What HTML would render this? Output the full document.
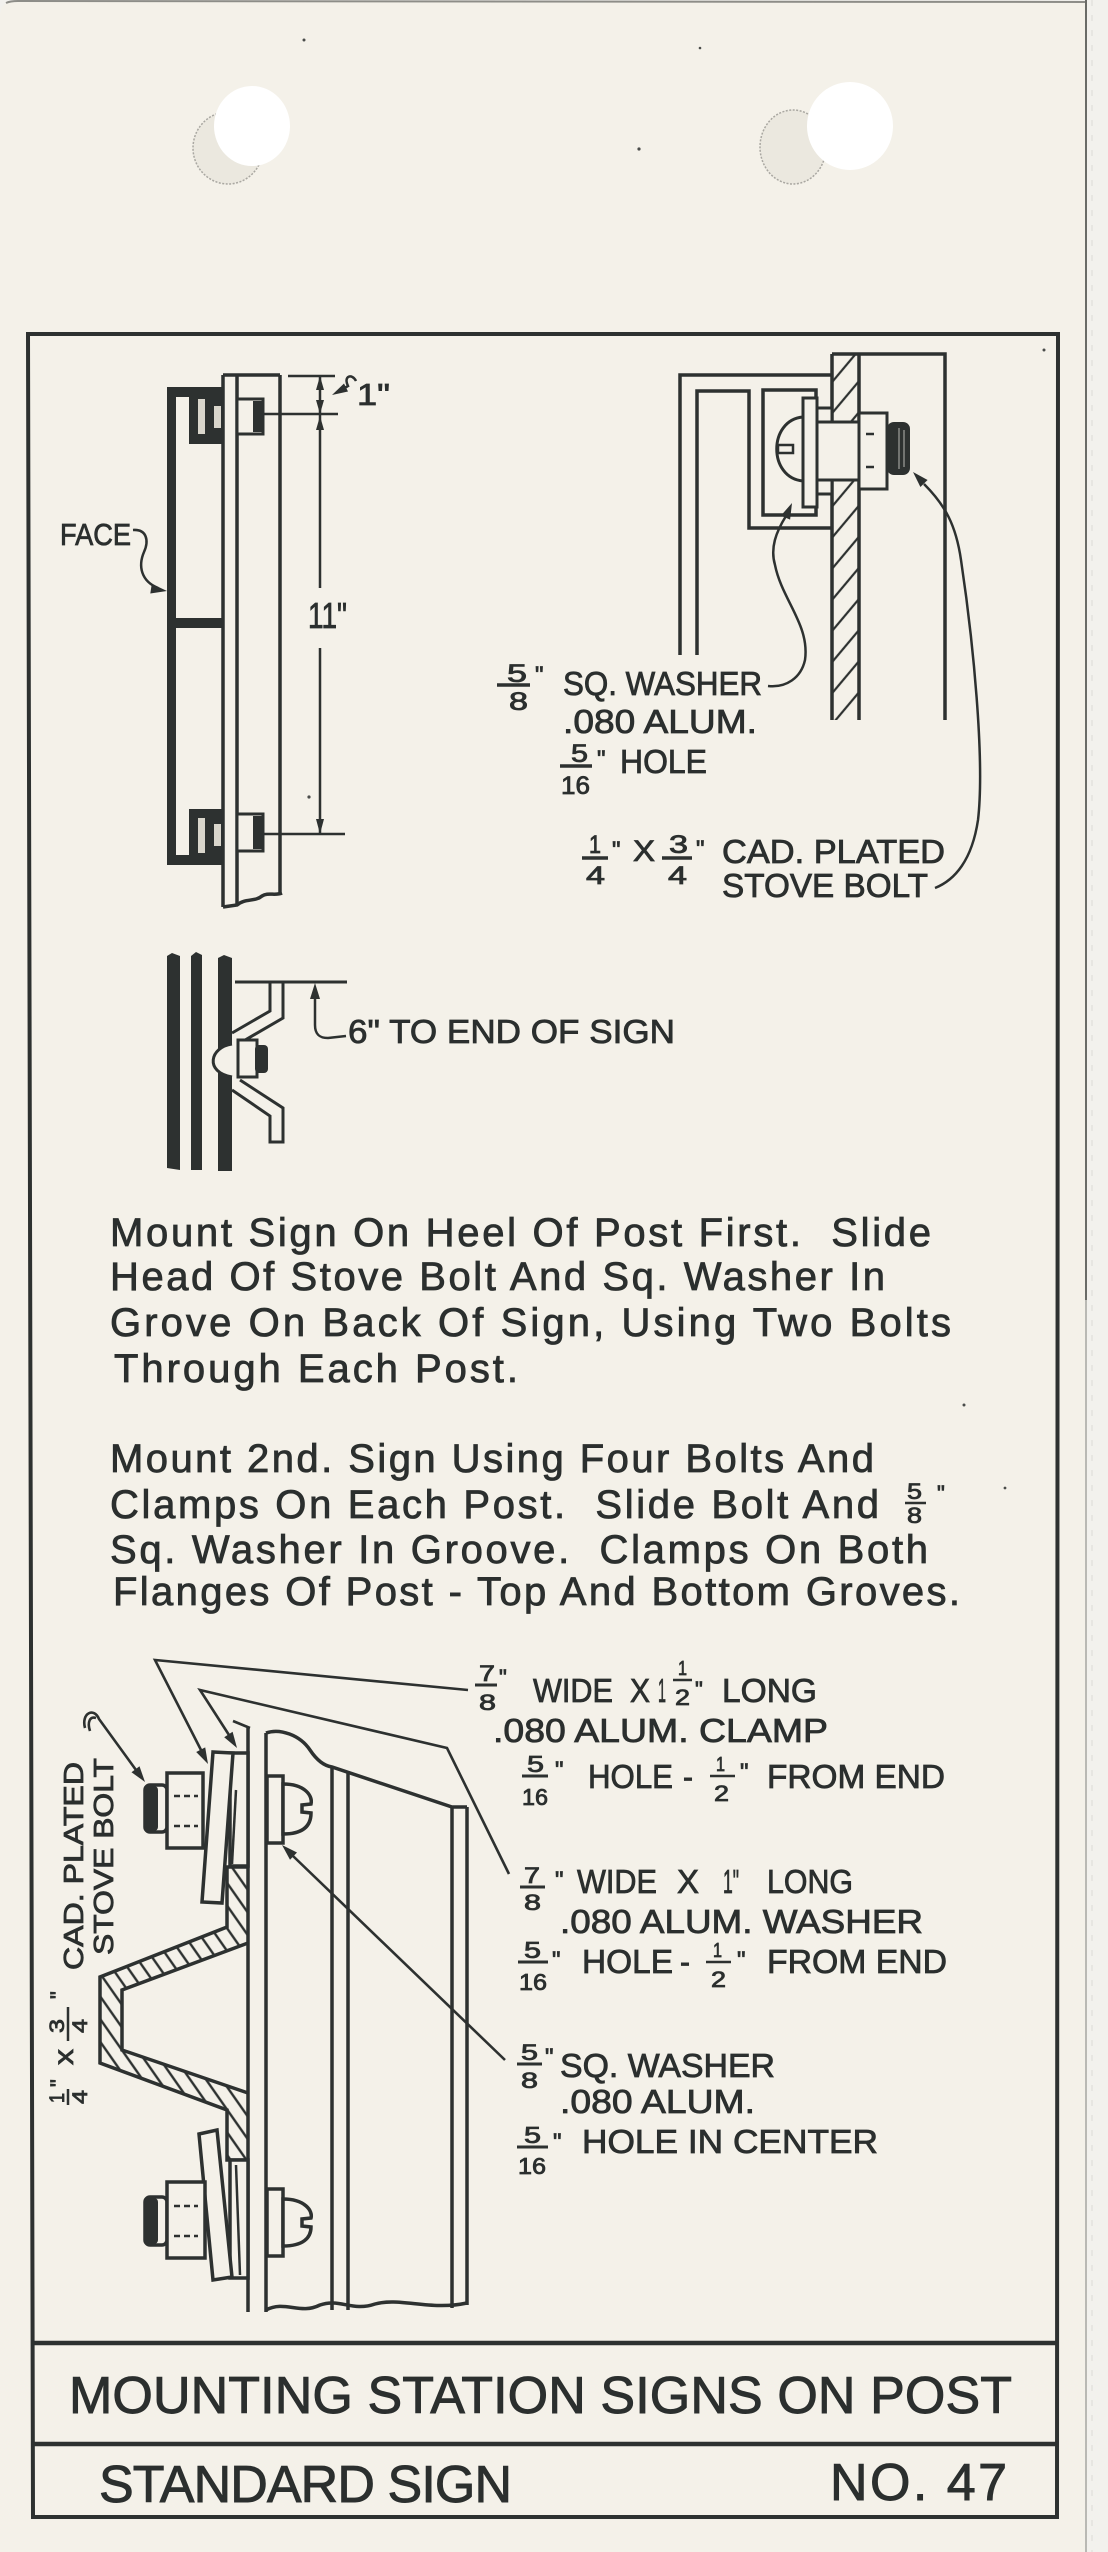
<!DOCTYPE html>
<html><head><meta charset="utf-8"><style>
html,body{margin:0;padding:0;background:#f1f0ec;}
svg{display:block;}
text{font-family:"Liberation Sans",sans-serif;fill:#2b2f2e;stroke:#2b2f2e;stroke-width:0.8;white-space:pre;}
</style></head><body>
<svg width="1108" height="2552" viewBox="0 0 1108 2552" xmlns="http://www.w3.org/2000/svg">
<defs>
<pattern id="hw" width="20" height="20" patternUnits="userSpaceOnUse" patternTransform="rotate(40)"><line x1="3" y1="0" x2="3" y2="20" stroke="#2d3130" stroke-width="2.2"/></pattern>
<pattern id="hc" width="13" height="13" patternUnits="userSpaceOnUse" patternTransform="rotate(-35)"><line x1="3" y1="0" x2="3" y2="13" stroke="#2d3130" stroke-width="2.4"/></pattern>
</defs>
<!-- page -->
<rect x="0" y="0" width="1108" height="2552" fill="#f2f1ed"/>
<path d="M0,16 Q0,1 16,1 L1087,1 L1087,2552 L0,2552 Z" fill="#f4f1e9"/>
<path d="M6,3 Q10,1 18,1 L1086,2" stroke="#8d8d88" stroke-width="2" fill="none"/>
<line x1="1086" y1="0" x2="1086" y2="1300" stroke="#6a6b67" stroke-width="2"/>
<line x1="1086" y1="1300" x2="1086" y2="2552" stroke="#b9b9b4" stroke-width="2"/>
<line x1="1092" y1="0" x2="1092" y2="2552" stroke="#dcdcd7" stroke-width="1" stroke-dasharray="6 9"/>

<!-- holes -->
<ellipse cx="228" cy="148" rx="35" ry="36" fill="#ebe8df" stroke="#a9a7a1" stroke-width="1.5" stroke-dasharray="2 1.5"/>
<ellipse cx="252" cy="126" rx="38" ry="40" fill="#ffffff"/>
<ellipse cx="793" cy="147" rx="33" ry="37" fill="#ebe8df" stroke="#a9a7a1" stroke-width="1.5" stroke-dasharray="2 1.5"/>
<ellipse cx="850" cy="126" rx="43" ry="44" fill="#ffffff"/>
<!-- specks -->
<g fill="#4a4c4a"><circle cx="304" cy="40" r="1.5"/><circle cx="639" cy="149" r="1.6"/><circle cx="700" cy="48" r="1.3"/><circle cx="1044" cy="350" r="1.5"/><circle cx="309" cy="797" r="1.6"/><circle cx="964" cy="1405" r="1.5"/><circle cx="1005" cy="1488" r="1.4"/></g>

<!-- frame -->
<g stroke="#2d3130" fill="none" stroke-width="4">
<path d="M28,334 L1058,334 L1057,2517 L33,2517 Z"/>
<line x1="31" y1="2343" x2="1057" y2="2343" stroke-width="4.5"/>
<line x1="32" y1="2444" x2="1057" y2="2444" stroke-width="4.5"/>
</g>

<!-- ============ TOP-LEFT DRAWING ============ -->
<g fill="#2d3130">
<rect x="167" y="387" width="9" height="478"/>
<rect x="167" y="387" width="56" height="10"/>
<rect x="167" y="855" width="56" height="10"/>
<rect x="167" y="618" width="56" height="10"/>
<rect x="189" y="387" width="34" height="57"/>
<rect x="189" y="809" width="34" height="56"/>
</g>
<g fill="#d9d6cc">
<rect x="198" y="399" width="7" height="35"/><rect x="214" y="406" width="7" height="22"/>
<rect x="198" y="818" width="7" height="35"/><rect x="214" y="824" width="7" height="22"/>
</g>
<g stroke="#2d3130" stroke-width="3.5" fill="none">
<line x1="223" y1="375" x2="223" y2="907"/>
<line x1="237" y1="375" x2="237" y2="904"/>
<line x1="280" y1="375" x2="280" y2="895"/>
<line x1="223" y1="375" x2="280" y2="375"/>
<path d="M223,907 L237,905 C245,898 255,902 262,896 C268,892 275,896 282,893"/>
</g>
<g stroke="#2d3130" stroke-width="3" fill="#f4f1e9">
<rect x="237" y="399" width="26" height="35"/>
<rect x="237" y="814" width="26" height="37"/>
</g>
<rect x="253" y="401" width="10" height="31" fill="#2d3130"/>
<rect x="253" y="816" width="10" height="33" fill="#2d3130"/>
<g stroke="#2d3130" stroke-width="2.5" fill="none">
<line x1="288" y1="376" x2="335" y2="376"/>
<line x1="263" y1="414" x2="338" y2="414"/>
<line x1="263" y1="834" x2="345" y2="834"/>
<line x1="320" y1="376" x2="320" y2="588"/>
<line x1="320" y1="648" x2="320" y2="834"/>
<path d="M356,381 C352,373 343,376 348,386 L338,392"/>
<path d="M133,530 C147,529 149,541 144,552 C138,566 141,581 158,588"/>
</g>
<g fill="#2d3130">
<polygon points="320,376 316,390 324,390"/>
<polygon points="320,414 316,400 324,400"/>
<polygon points="320,416 316,430 324,430"/>
<polygon points="320,834 316,819 324,819"/>
<polygon points="332,395 348,391.5 344,383.5"/>
<polygon points="167,591 150.3,593.5 151.8,583.7"/>
</g>
<text x="308" y="628" font-size="36" textLength="39" lengthAdjust="spacingAndGlyphs">11"</text>
<text x="357" y="405" font-size="31" textLength="33" lengthAdjust="spacingAndGlyphs">1"</text>
<text x="60" y="545" font-size="31" textLength="71" lengthAdjust="spacingAndGlyphs">FACE</text>

<!-- ============ TOP-RIGHT DRAWING ============ -->
<rect x="832" y="354" width="27" height="366" fill="url(#hw)"/>
<g stroke="#2d3130" stroke-width="3.5" fill="none">
<path d="M680,655 L680,375 L832,375"/>
<path d="M697,655 L697,391 L749,391 L749,528 L832,528"/>
<rect x="763" y="390" width="53" height="125"/>
<line x1="832" y1="354" x2="832" y2="720"/>
<line x1="859" y1="354" x2="859" y2="720"/>
<path d="M832,354 L945,354 L945,720"/>
</g>
<g stroke="#2d3130" stroke-width="3" fill="#f4f1e9">
<rect x="817" y="408" width="15" height="86"/>
<rect x="817" y="422" width="42" height="58"/>
<rect x="803" y="398" width="14" height="109"/>
<path d="M803,417 C768,420 768,478 803,481 Z"/>
<rect x="778" y="445" width="15" height="8" stroke-width="2.5"/>
<rect x="859" y="413" width="28" height="76"/>
</g>
<rect x="887" y="422" width="23" height="53" rx="7" fill="#2d3130"/>
<g stroke="#8a8b87" stroke-width="1.5"><line x1="899" y1="428" x2="899" y2="469"/><line x1="904" y1="430" x2="904" y2="467"/></g>
<g stroke="#2d3130" stroke-width="2.5" fill="none">
<line x1="866" y1="434" x2="874" y2="434"/><line x1="866" y1="467" x2="874" y2="467"/>
<path d="M786,516 C776,532 770,548 775,565 C782,600 810,625 805,660 C801,678 786,688 768,686"/>
<path d="M924,484 C945,505 956,525 961,560 C973,640 985,760 978,820 C972,860 955,880 935,888"/>
</g>
<g fill="#2d3130">
<polygon points="792,503 790.1,519.6 780.9,515.6"/>
<polygon points="913,472 927.6,480 920.4,487"/>
</g>
<!-- labels -->
<text x="507" y="682" font-size="25" textLength="20" lengthAdjust="spacingAndGlyphs">5</text>
<line x1="497" y1="685" x2="530" y2="685" stroke="#2d3130" stroke-width="3.5"/>
<text x="509" y="710" font-size="25" textLength="19" lengthAdjust="spacingAndGlyphs">8</text>
<text x="535" y="683" font-size="24">"</text>
<text x="563" y="695" font-size="33" textLength="199" lengthAdjust="spacingAndGlyphs">SQ. WASHER</text>
<text x="563" y="733" font-size="33" textLength="194" lengthAdjust="spacingAndGlyphs">.080 ALUM.</text>
<text x="571" y="762" font-size="25" textLength="17" lengthAdjust="spacingAndGlyphs">5</text>
<line x1="560" y1="766" x2="592" y2="766" stroke="#2d3130" stroke-width="3.5"/>
<text x="561" y="794" font-size="25" textLength="29" lengthAdjust="spacingAndGlyphs">16</text>
<text x="597" y="767" font-size="24">"</text>
<text x="620" y="773" font-size="33" textLength="87" lengthAdjust="spacingAndGlyphs">HOLE</text>
<text x="589" y="853" font-size="25" textLength="12" lengthAdjust="spacingAndGlyphs">1</text>
<line x1="582" y1="858" x2="608" y2="858" stroke="#2d3130" stroke-width="3.5"/>
<text x="586" y="884" font-size="25" textLength="19" lengthAdjust="spacingAndGlyphs">4</text>
<text x="612" y="858" font-size="24">"</text>
<text x="633" y="861" font-size="30" textLength="22" lengthAdjust="spacingAndGlyphs">X</text>
<text x="669" y="853" font-size="25" textLength="19" lengthAdjust="spacingAndGlyphs">3</text>
<line x1="662" y1="858" x2="692" y2="858" stroke="#2d3130" stroke-width="3.5"/>
<text x="668" y="884" font-size="25" textLength="19" lengthAdjust="spacingAndGlyphs">4</text>
<text x="696" y="857" font-size="24">"</text>
<text x="722" y="863" font-size="33" textLength="223" lengthAdjust="spacingAndGlyphs">CAD. PLATED</text>
<text x="722" y="897" font-size="33" textLength="206" lengthAdjust="spacingAndGlyphs">STOVE BOLT</text>

<!-- ============ MIDDLE DRAWING ============ -->
<g fill="#2d3130">
<path d="M167,956 L172,953 L180,956 L180,1170 L167,1168 Z"/>
<path d="M191,956 L196,952 L202,955 L202,1170 L191,1170 Z"/>
<path d="M218,958 L224,955 L232,958 L232,1171 L218,1171 Z"/>
</g>
<g stroke="#2d3130" stroke-width="3" fill="none">
<line x1="235" y1="982" x2="347" y2="982"/>
<path d="M270,983 L270,1011 L232,1033"/>
<path d="M283,983 L283,1018 L240,1043"/>
<path d="M232,1090 L270,1116 L270,1142 L283,1142 L283,1108 L240,1080"/>
</g>
<path d="M232,1044 C210,1047 204,1072 232,1077" fill="#f4f1e9" stroke="#2d3130" stroke-width="3"/>
<rect x="238" y="1040" width="19" height="37" fill="#f4f1e9" stroke="#2d3130" stroke-width="3"/>
<rect x="255" y="1045" width="13" height="28" rx="4" fill="#2d3130"/>
<path d="M315,997 L315,1025 C315,1035 320,1038 328,1038 L346,1036" stroke="#2d3130" stroke-width="2.5" fill="none"/>
<polygon points="315,983 310,999 320,999" fill="#2d3130"/>
<text x="348" y="1043" font-size="33" textLength="327" lengthAdjust="spacingAndGlyphs">6" TO END OF SIGN</text>

<!-- ============ PARAGRAPHS ============ -->
<g font-size="40" style="stroke-width:1.1">
<text x="110" y="1246" textLength="821">Mount Sign On Heel Of Post First.  Slide</text>
<text x="110" y="1290" textLength="775">Head Of Stove Bolt And Sq. Washer In</text>
<text x="110" y="1336" textLength="841">Grove On Back Of Sign, Using Two Bolts</text>
<text x="114" y="1382" textLength="404">Through Each Post.</text>
<text x="110" y="1472" textLength="764">Mount 2nd. Sign Using Four Bolts And</text>
<text x="110" y="1518" textLength="769">Clamps On Each Post.  Slide Bolt And</text>
<text x="110" y="1563" textLength="818">Sq. Washer In Groove.  Clamps On Both</text>
<text x="113" y="1605" textLength="847">Flanges Of Post - Top And Bottom Groves.</text>
</g>
<text x="907" y="1499" font-size="22" textLength="15" lengthAdjust="spacingAndGlyphs">5</text>
<line x1="905" y1="1503" x2="926" y2="1503" stroke="#2d3130" stroke-width="2.5"/>
<text x="907" y="1523" font-size="22" textLength="15" lengthAdjust="spacingAndGlyphs">8</text>
<text x="937" y="1501" font-size="22">"</text>

<!-- ============ BOTTOM DRAWING ============ -->
<g stroke="#2d3130" stroke-width="3.5" fill="none">
<line x1="248" y1="1728" x2="248" y2="2312"/>
<line x1="266" y1="1733" x2="266" y2="2312"/>
<line x1="332" y1="1766" x2="332" y2="2310"/>
<line x1="348" y1="1771" x2="348" y2="2310"/>
<line x1="452" y1="1807" x2="452" y2="2308"/>
<line x1="467" y1="1807" x2="467" y2="2305"/>
<path d="M266,1733 C280,1728 300,1735 310,1750 C318,1762 325,1766 332,1767 L452,1807 L467,1807"/>
<path d="M266,2310 C285,2300 300,2315 320,2305 C340,2298 352,2312 375,2304 C400,2297 430,2311 467,2303"/>
</g>
<path d="M248,1867 L227,1867 L227,1927 L100,1977 L100,2063 L227,2110 L227,2160 L248,2160 L248,2093 L122,2050 L122,1990 L248,1943 Z" fill="url(#hc)" stroke="none"/>
<g stroke="#2d3130" stroke-width="3.5" fill="none">
<path d="M248,1867 L227,1867 L227,1927 L100,1977 L100,2063 L227,2110 L227,2160 L248,2160"/>
<path d="M248,1943 L122,1990 L122,2050 L248,2093"/>
</g>
<g stroke="#2d3130" stroke-width="3.5" fill="#f4f1e9">
<rect x="230" y="1753" width="18" height="113"/>
<polygon points="213,1752 233,1753 222,1903 202,1902"/>
<rect x="230" y="2160" width="18" height="118"/>
<polygon points="199,2134 217,2130 232,2277 213,2280"/>
</g>
<line x1="236" y1="1790" x2="232" y2="1864" stroke="#2d3130" stroke-width="2.5"/>
<line x1="236" y1="2165" x2="240" y2="2275" stroke="#2d3130" stroke-width="2.5"/>
<g stroke="#2d3130" stroke-width="3.5" fill="#f4f1e9">
<rect x="145" y="1785" width="22" height="47" rx="5"/>
<rect x="167" y="1773" width="36" height="75"/>
<rect x="145" y="2197" width="22" height="48" rx="5"/>
<rect x="167" y="2182" width="38" height="76"/>
</g>
<rect x="145" y="1786" width="13" height="45" rx="4" fill="#2d3130"/>
<rect x="145" y="2198" width="13" height="46" rx="4" fill="#2d3130"/>
<g stroke="#2d3130" stroke-width="2.5" stroke-dasharray="6 4">
<line x1="174" y1="1796" x2="198" y2="1796"/><line x1="174" y1="1826" x2="198" y2="1826"/>
<line x1="174" y1="2206" x2="198" y2="2206"/><line x1="174" y1="2236" x2="198" y2="2236"/>
</g>
<g stroke="#2d3130" stroke-width="3.5" fill="#f4f1e9">
<rect x="267" y="1776" width="16" height="67"/>
<path d="M283,1784 C305,1784 313,1796 311,1804 L302,1805 L302,1812 L311,1813 C311,1826 303,1834 283,1834 Z"/>
<rect x="267" y="2189" width="16" height="67"/>
<path d="M283,2199 C305,2199 313,2211 311,2218 L302,2219 L302,2226 L311,2227 C311,2238 303,2246 283,2246 Z"/>
</g>
<g stroke="#2d3130" stroke-width="2.6" fill="none">
<path d="M468,1690 L155,1660 L201,1750"/>
<path d="M509,1874 L447,1748 L200,1690 L229,1735"/>
<path d="M233,1721 L250,1728"/>
<path d="M505,2060 L293,1856"/>
<path d="M85,1728 C81,1713 94,1707 99,1719 L136,1770"/>
<path d="M90,1731 C87,1722 90,1716 96,1718"/>
</g>
<g fill="#2d3130">
<polygon points="208,1764 205.2,1747.4 196.2,1752"/>
<polygon points="237,1748 232.6,1731.8 224.2,1737.2"/>
<polygon points="145,1782 139.5,1766.2 131.5,1772.2"/>
<polygon points="282,1845 297,1852.5 290,1859.7"/>
</g>
<text transform="translate(83,1970) rotate(-90)" font-size="28" textLength="208" lengthAdjust="spacingAndGlyphs">CAD. PLATED</text>
<text transform="translate(113,1955) rotate(-90)" font-size="28" textLength="197" lengthAdjust="spacingAndGlyphs">STOVE BOLT</text>
<g transform="translate(90,2105) rotate(-90)">
<text x="2" y="-26" font-size="21" textLength="10" lengthAdjust="spacingAndGlyphs">1</text>
<line x1="0" y1="-22" x2="16" y2="-22" stroke="#2d3130" stroke-width="2.5"/>
<text x="1" y="-3" font-size="21" textLength="14" lengthAdjust="spacingAndGlyphs">4</text>
<text x="18" y="-24" font-size="22">"</text>
<text x="40" y="-17" font-size="28" textLength="16" lengthAdjust="spacingAndGlyphs">x</text>
<text x="72" y="-26" font-size="21" textLength="14" lengthAdjust="spacingAndGlyphs">3</text>
<line x1="64" y1="-22" x2="98" y2="-22" stroke="#2d3130" stroke-width="2.5"/>
<text x="72" y="-3" font-size="21" textLength="14" lengthAdjust="spacingAndGlyphs">4</text>
<text x="106" y="-24" font-size="22">"</text>
</g>
<!-- bottom labels -->
<text x="479" y="1681" font-size="22" textLength="16" lengthAdjust="spacingAndGlyphs">7</text>
<line x1="475" y1="1685" x2="497" y2="1685" stroke="#2d3130" stroke-width="3"/>
<text x="479" y="1710" font-size="22" textLength="17" lengthAdjust="spacingAndGlyphs">8</text>
<text x="499" y="1685" font-size="22">"</text>
<text x="533" y="1702" font-size="33" textLength="80" lengthAdjust="spacingAndGlyphs">WIDE</text>
<text x="630" y="1702" font-size="33" textLength="20" lengthAdjust="spacingAndGlyphs">X</text>
<text x="658" y="1702" font-size="33" textLength="8" lengthAdjust="spacingAndGlyphs">1</text>
<text x="678" y="1675" font-size="20" textLength="9" lengthAdjust="spacingAndGlyphs">1</text>
<line x1="673" y1="1680" x2="692" y2="1680" stroke="#2d3130" stroke-width="2.5"/>
<text x="675" y="1705" font-size="22" textLength="15" lengthAdjust="spacingAndGlyphs">2</text>
<text x="695" y="1697" font-size="22">"</text>
<text x="722" y="1702" font-size="33" textLength="95" lengthAdjust="spacingAndGlyphs">LONG</text>
<text x="493" y="1742" font-size="33" textLength="335" lengthAdjust="spacingAndGlyphs">.080 ALUM. CLAMP</text>
<text x="527" y="1772" font-size="23" textLength="17" lengthAdjust="spacingAndGlyphs">5</text>
<line x1="522" y1="1776" x2="548" y2="1776" stroke="#2d3130" stroke-width="3"/>
<text x="522" y="1805" font-size="23" textLength="26" lengthAdjust="spacingAndGlyphs">16</text>
<text x="555" y="1778" font-size="24">"</text>
<text x="588" y="1788" font-size="33" textLength="85" lengthAdjust="spacingAndGlyphs">HOLE</text>
<text x="683" y="1788" font-size="33" textLength="10" lengthAdjust="spacingAndGlyphs">-</text>
<text x="716" y="1771" font-size="20" textLength="9" lengthAdjust="spacingAndGlyphs">1</text>
<line x1="710" y1="1776" x2="735" y2="1776" stroke="#2d3130" stroke-width="2.5"/>
<text x="714" y="1801" font-size="22" textLength="15" lengthAdjust="spacingAndGlyphs">2</text>
<text x="740" y="1780" font-size="24">"</text>
<text x="767" y="1788" font-size="33" textLength="178" lengthAdjust="spacingAndGlyphs">FROM END</text>

<text x="524" y="1883" font-size="22" textLength="16" lengthAdjust="spacingAndGlyphs">7</text>
<line x1="520" y1="1887" x2="545" y2="1887" stroke="#2d3130" stroke-width="3"/>
<text x="524" y="1910" font-size="22" textLength="17" lengthAdjust="spacingAndGlyphs">8</text>
<text x="555" y="1888" font-size="24">"</text>
<text x="577" y="1893" font-size="33" textLength="80" lengthAdjust="spacingAndGlyphs">WIDE</text>
<text x="677" y="1893" font-size="33" textLength="22" lengthAdjust="spacingAndGlyphs">X</text>
<text x="723" y="1893" font-size="33" textLength="16" lengthAdjust="spacingAndGlyphs">1"</text>
<text x="767" y="1893" font-size="33" textLength="86" lengthAdjust="spacingAndGlyphs">LONG</text>
<text x="560" y="1933" font-size="33" textLength="363" lengthAdjust="spacingAndGlyphs">.080 ALUM. WASHER</text>
<text x="524" y="1958" font-size="23" textLength="17" lengthAdjust="spacingAndGlyphs">5</text>
<line x1="518" y1="1962" x2="548" y2="1962" stroke="#2d3130" stroke-width="3"/>
<text x="519" y="1990" font-size="23" textLength="28" lengthAdjust="spacingAndGlyphs">16</text>
<text x="552" y="1968" font-size="24">"</text>
<text x="582" y="1973" font-size="33" textLength="91" lengthAdjust="spacingAndGlyphs">HOLE</text>
<text x="680" y="1973" font-size="33" textLength="10" lengthAdjust="spacingAndGlyphs">-</text>
<text x="713" y="1957" font-size="20" textLength="9" lengthAdjust="spacingAndGlyphs">1</text>
<line x1="706" y1="1962" x2="731" y2="1962" stroke="#2d3130" stroke-width="2.5"/>
<text x="711" y="1987" font-size="22" textLength="15" lengthAdjust="spacingAndGlyphs">2</text>
<text x="737" y="1968" font-size="24">"</text>
<text x="767" y="1973" font-size="33" textLength="180" lengthAdjust="spacingAndGlyphs">FROM END</text>

<text x="521" y="2060" font-size="22" textLength="17" lengthAdjust="spacingAndGlyphs">5</text>
<line x1="517" y1="2064" x2="542" y2="2064" stroke="#2d3130" stroke-width="3"/>
<text x="521" y="2088" font-size="22" textLength="17" lengthAdjust="spacingAndGlyphs">8</text>
<text x="545" y="2065" font-size="24">"</text>
<text x="560" y="2077" font-size="33" textLength="215" lengthAdjust="spacingAndGlyphs">SQ. WASHER</text>
<text x="560" y="2113" font-size="33" textLength="195" lengthAdjust="spacingAndGlyphs">.080 ALUM.</text>
<text x="524" y="2143" font-size="23" textLength="17" lengthAdjust="spacingAndGlyphs">5</text>
<line x1="517" y1="2147" x2="548" y2="2147" stroke="#2d3130" stroke-width="3"/>
<text x="518" y="2174" font-size="23" textLength="28" lengthAdjust="spacingAndGlyphs">16</text>
<text x="553" y="2150" font-size="24">"</text>
<text x="582" y="2153" font-size="33" textLength="296" lengthAdjust="spacingAndGlyphs">HOLE IN CENTER</text>

<!-- ============ TITLE ============ -->
<text x="69" y="2413" font-size="52" textLength="943" style="stroke-width:0.9">MOUNTING STATION SIGNS ON POST</text>
<text x="99" y="2502" font-size="52" textLength="413" style="stroke-width:0.9">STANDARD SIGN</text>
<text x="830" y="2500" font-size="52" textLength="177" style="stroke-width:0.9">NO. 47</text>
</svg>
</body></html>
